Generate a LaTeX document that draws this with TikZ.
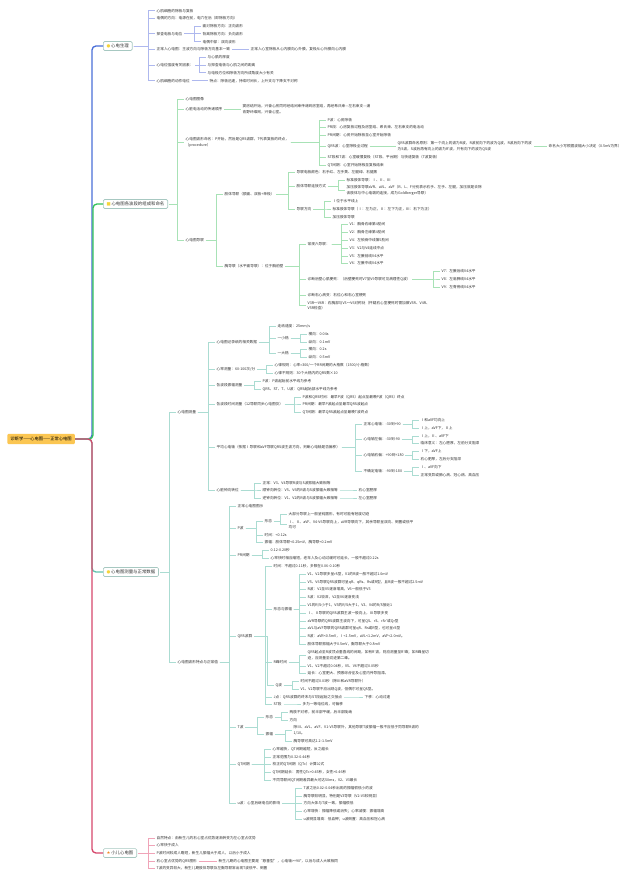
\documentclass[tikz,border=0pt]{standalone}
\usepackage{fontspec}
\setmainfont{Noto Sans CJK SC}
\newfontfamily\dejavu{DejaVu Sans}
\usetikzlibrary{calc}
\definecolor{cB}{HTML}{4A6FD8}
\definecolor{cBl}{HTML}{AEB8EE}
\definecolor{cG}{HTML}{34C35A}
\definecolor{cGl}{HTML}{A8E2B6}
\definecolor{cT}{HTML}{62C2AE}
\definecolor{cTl}{HTML}{ABDCD2}
\definecolor{cR}{HTML}{D6486C}
\definecolor{cRl}{HTML}{F0A4B8}
\definecolor{secb}{HTML}{A7C8C1}
\definecolor{rootf}{HTML}{FBC652}
\definecolor{txt}{HTML}{333333}
\definecolor{bulb}{HTML}{F5D43A}
\definecolor{staro}{HTML}{F08A24}
\tikzset{
 tx/.style={anchor=west, inner sep=0.3pt, font=\fontsize{2.75}{4.3}\selectfont, text=txt, align=left},
 secbox/.style={anchor=west, draw=secb, line width=0.5pt, fill=white, rounded corners=1pt, inner xsep=2.5pt, inner ysep=1.8pt, font=\fontsize{3.3}{4}\selectfont, text=txt},
 rootbox/.style={anchor=west, fill=rootf, rounded corners=1pt, inner xsep=2.4pt, inner ysep=2.4pt, font=\fontsize{3.2}{4}\selectfont, text=black},
 lB/.style={cBl, line width=0.45pt},
 lG/.style={cGl, line width=0.45pt},
 lT/.style={cTl, line width=0.45pt},
 lR/.style={cRl, line width=0.45pt},
 trunk/.style={line width=1pt, rounded corners=3},
}
\newcommand{\mmnode}[4]{\node[tx] (#1) at (#2,#3) {#4};}
\newcommand{\mmlk}[3]{\foreach \mmc in {#2}{\draw[#3] ($(#1.east)+(1.2,0)$) -| ($(\mmc.west)+(-8,0)$) -- ($(\mmc.west)+(-0.6,0)$);}}
\begin{document}
\begin{tikzpicture}[x=0.75pt,y=-0.75pt]
\fill[white] (0,0) rectangle (640,879);
\useasboundingbox (0,0) rectangle (640,879);

% root and sections
\node[rootbox] (root) at (7,439) {诊断学——心电图——正常心电图};
\node[secbox] (s1) at (103,46) {{\dejavu\textcolor{bulb}{●}}\,心电生理};
\node[secbox] (s2) at (103,204) {{\dejavu\textcolor{bulb}{■}}\,心电图各波段的组成和命名};
\node[secbox] (s3) at (103,572) {{\dejavu\textcolor{bulb}{●}}\,心电图测量与正常数据};
\node[secbox] (s4) at (103,853) {{\dejavu\textcolor{staro}{★}}\,小儿心电图};

\draw[trunk, cB] (root.east) -| ($(s1.west)+(-11,0)$) -- (s1.west);
\draw[trunk, cG] (root.east) -| ($(s2.west)+(-10,0)$) -- (s2.west);
\draw[trunk, cT] (root.east) -| ($(s3.west)+(-11,0)$) -- (s3.west);
\draw[trunk, cR] (root.east) -| ($(s4.west)+(-11,0)$) -- (s4.west);

% ---------- Section 1
\mmnode{a1}{156}{10.7}{心肌细胞的除极与复极}
\mmnode{a2}{156}{18.3}{电偶的方向：电源在前，电穴在后（即除极方向）}
\mmnode{a3}{156}{33.7}{探查电极与电位}
\mmnode{a31}{202}{26.3}{面对除极方向：正向波形}
\mmnode{a32}{202}{33.7}{背离除极方向：负向波形}
\mmnode{a33}{202}{41.7}{电偶中部：双向波形}
\mmnode{a4}{156}{49.3}{正常人心电图：主波方向与除极方向基本一致}
\mmnode{a41}{250}{49.3}{正常人心室除极从心内膜向心外膜，复极从心外膜向心内膜}
\mmnode{a5}{156}{65.3}{心电位强度有关因素：}
\mmnode{a51}{207}{57.3}{与心肌的厚度}
\mmnode{a52}{207}{65.3}{与探查电极与心肌之间的距离}
\mmnode{a53}{207}{72.7}{与电极方位和除极方向所成角度大小有关}
\mmnode{a6}{156}{80.7}{心肌细胞的动作电位}
\mmnode{a61}{209}{80.7}{特点：除极迅速，持续时间长，上升支与下降支不对称}
\mmlk{s1}{a1,a2,a3,a4,a5,a6}{lB}
\mmlk{a3}{a31,a32,a33}{lB}
\mmlk{a4}{a41}{lB}
\mmlk{a5}{a51,a52,a53}{lB}
\mmlk{a6}{a61}{lB}

% ---------- Section 2
\mmnode{b1}{185}{99}{心电图图像}
\mmnode{b2}{185}{109.3}{心脏电活动的传递顺序}
\mmnode{b21}{242}{109.3}{窦房结开始，兴奋心房同时经结间束传递到房室结，再经希氏束—左右束支—浦\\肯野纤维网，兴奋心室。}
\mmnode{b3}{185}{142}{心电图波形命名：P开始，然后是QRS波群，T代表复极的终点，\\（procedure）}
\mmnode{b31}{327}{120}{P波：心房除极}
\mmnode{b32}{327}{127.3}{PR段：心房复极过程及房室结、希氏束、左右束支的电活动}
\mmnode{b33}{327}{135}{PR间期：心房开始除极至心室开始除极}
\mmnode{b34}{327}{146}{QRS波：心室除极全过程}
\mmnode{b341}{397}{146.5}{QRS波群命名原则：第一个向上的波为R波，R波前向下的波为Q波，R波后向下的波\\为S波，S波后再有向上的波为R′波，只有向下的波为QS波}
\mmnode{b3411}{548}{146.5}{命名大小写根据波幅大小决定（0.5mV为界）}
\mmnode{b35}{327}{157}{ST段和T波：心室缓慢复极（ST段、平台期）与快速复极（T波复极）}
\mmnode{b36}{327}{165}{QT间期：心室开始除极至复极结束}
\mmnode{b4}{185}{240}{心电图导联}
\mmnode{b41}{224}{194}{肢体导联（额面、双极+单极）}
\mmnode{b411}{296}{172}{导联电极颜色：右手红、左手黄、左腿绿、右腿黑}
\mmnode{b412}{296}{186}{肢体导联连接方式}
\mmnode{b4121}{346}{180}{标准肢体导联：Ⅰ、Ⅱ、Ⅲ}
\mmnode{b4122}{346}{190.5}{加压肢体导联aVR、aVL、aVF（R、L、F分别表示右手、左手、左腿，加压就是去除\\该肢体与中心电端的连接，成为Goldberger导联）}
\mmnode{b413}{296}{209}{导联方向}
\mmnode{b4131}{332}{201}{Ⅰ位于水平线上}
\mmnode{b4132}{332}{209}{标准肢体导联（Ⅰ：左为正，Ⅱ：左下为正，Ⅲ：右下为正）}
\mmnode{b4133}{332}{217}{加压肢体导联}
\mmnode{b42}{224}{266}{胸导联（水平面导联）：位于胸前壁}
\mmnode{b421}{307}{244}{常规六导联：}
\mmnode{b4211}{349}{224}{V1：胸骨右缘第4肋间}
\mmnode{b4212}{349}{232}{V2：胸骨左缘第4肋间}
\mmnode{b4213}{349}{240}{V4：左锁骨中线第5肋间}
\mmnode{b4214}{349}{248}{V3：V2与V4连线中点}
\mmnode{b4215}{349}{256}{V5：左腋前线V4水平}
\mmnode{b4216}{349}{263}{V6：左腋中线V4水平}
\mmnode{b422}{307}{279}{诊断后壁心肌梗死：（后壁梗死时V7至V9导联可见病理性Q波）}
\mmnode{b4221}{441}{271}{V7：左腋后线V4水平}
\mmnode{b4222}{441}{279}{V8：左肩胛线V4水平}
\mmnode{b4223}{441}{287}{V9：左脊旁线V4水平}
\mmnode{b423}{307}{295}{诊断右心病变：右位心和右心室梗死}
\mmnode{b424}{307}{305.5}{V3R～V6R：右胸部与V3～V6对称处（怀疑右心室梗死时需加做V3R、V4R、\\V5R检查）}
\mmlk{s2}{b1,b2,b3,b4}{lG}
\mmlk{b2}{b21}{lG}
\mmlk{b3}{b31,b32,b33,b34,b35,b36}{lG}
\mmlk{b34}{b341}{lG}
\mmlk{b341}{b3411}{lG}
\mmlk{b4}{b41,b42}{lG}
\mmlk{b41}{b411,b412,b413}{lG}
\mmlk{b412}{b4121,b4122}{lG}
\mmlk{b413}{b4131,b4132,b4133}{lG}
\mmlk{b42}{b421,b422,b423,b424}{lG}
\mmlk{b421}{b4211,b4212,b4213,b4214,b4215,b4216}{lG}
\mmlk{b422}{b4221,b4222,b4223}{lG}

% ---------- Section 3
\mmnode{c1}{177}{412}{心电图测量}
\mmnode{c11}{216}{342}{心电图记录纸的相关数据}
\mmnode{c111}{277}{326}{走纸速度：25mm/s}
\mmnode{c112}{277}{338}{一小格}
\mmnode{c1121}{308}{334}{横向：0.04s}
\mmnode{c1122}{308}{342}{纵向：0.1mV}
\mmnode{c113}{277}{353}{一大格}
\mmnode{c1131}{308}{349}{横向：0.2s}
\mmnode{c1132}{308}{357}{纵向：0.5mV}
\mmnode{c12}{216}{369}{心率测量：60-100次/分}
\mmnode{c121}{274}{365}{心律规则：心率=300/一个RR间期的大格数（1500/小格数）}
\mmnode{c122}{274}{373}{心律不规则：30个大格内的QRS数×10}
\mmnode{c13}{216}{385}{各波段振幅测量}
\mmnode{c131}{262}{381}{P波：P波起始前水平线为参考}
\mmnode{c132}{262}{389}{QRS、ST、T、U波：QRS起始部水平线为参考}
\mmnode{c14}{216}{404}{各波段时间测量（12导联同步心电图仪）}
\mmnode{c141}{302}{397}{P波和QRS时间：最早P波（QRS）起点至最晚P波（QRS）终点}
\mmnode{c142}{302}{404}{PR间期：最早P波起点至最早QRS波起点}
\mmnode{c143}{302}{412}{QT间期：最早QRS波起点至最晚T波终点}
\mmnode{c15}{216}{447}{平均心电轴（依据Ⅰ导联和aVF导联QRS波主波方向，判断心电轴是否偏移）}
\mmnode{c151}{363}{424}{正常心电轴：-30到+90}
\mmnode{c1511}{420}{420}{Ⅰ和aVF均向上}
\mmnode{c1512}{420}{428}{Ⅰ上，aVF下，Ⅱ上}
\mmnode{c152}{363}{439}{心电轴左偏：-30到-90}
\mmnode{c1521}{420}{436}{Ⅰ上，Ⅱ、aVF下}
\mmnode{c1522}{420}{443}{临床意义：左心肥厚，左前分支阻滞}
\mmnode{c153}{363}{455}{心电轴右偏：+90到+180}
\mmnode{c1531}{420}{451}{Ⅰ下，aVF上}
\mmnode{c1532}{420}{459}{右心肥厚，左后分支阻滞}
\mmnode{c154}{363}{471}{不确定电轴：-90到-180}
\mmnode{c1541}{420}{467}{Ⅰ、aVF向下}
\mmnode{c1542}{420}{475}{正常变异或肺心病、冠心病、高血压}
\mmnode{c16}{216}{490}{心脏钟向转位}
\mmnode{c161}{262}{483}{正常：V3、V4导联R波与S波振幅大致相等}
\mmnode{c162}{262}{490}{顺钟向转位：V5、V6的R波与S波振幅大致相等}
\mmnode{c1621}{358}{490}{右心室肥厚}
\mmnode{c163}{262}{498}{逆钟向转位：V1、V2的R波与S波振幅大致相等}
\mmnode{c1631}{358}{498}{左心室肥厚}

\mmnode{c2}{177}{662}{心电图波形特点与正常值}
\mmnode{c21}{237}{506}{正常心电图图示}
\mmnode{c22}{237}{528}{P波}
\mmnode{c221}{264}{521}{形态}
\mmnode{c2211}{288}{514}{大部分导联上一般呈钝圆形，有时可能有轻度切迹}
\mmnode{c2212}{288}{524.5}{Ⅰ、Ⅱ、aVF、V4-V6导联向上，aVR导联向下，其余导联呈双向、倒置或低平\\均可}
\mmnode{c222}{264}{535}{时间：<0.12s}
\mmnode{c223}{264}{542}{振幅：肢体导联<0.25mV，胸导联<0.2mV}
\mmnode{c23}{237}{555}{PR间期}
\mmnode{c231}{270}{550}{0.12-0.20秒}
\mmnode{c232}{270}{558}{心率快时相应缩短，老年人及心动过缓时可延长，一般不超过0.22s}
\mmnode{c24}{237}{636}{QRS波群}
\mmnode{c241}{273}{566}{时间：不超过0.11秒，多数在0.06-0.10秒}
\mmnode{c242}{273}{609}{形态与振幅}
\mmnode{c2421}{307}{574}{V1、V2导联多呈rS型，V1的R波一般不超过1.0mV}
\mmnode{c2422}{307}{582}{V5、V6导联QRS波群可呈qR、qRs、Rs或R型，且R波一般不超过2.5mV}
\mmnode{c2423}{307}{589}{R波：V1至V5逐渐增高，V6一般低于V5}
\mmnode{c2424}{307}{597}{S波：V2较深，V2至V6逐渐变浅}
\mmnode{c2425}{307}{605}{V1的R/S小于1，V5的R/S大于1，V3、V4的R/S接近1}
\mmnode{c2426}{307}{613}{Ⅰ、Ⅱ导联的QRS波群主波一般向上，Ⅲ导联多变}
\mmnode{c2427}{307}{621}{aVR导联的QRS波群主波向下，可呈QS、rS、rSr′或Qr型}
\mmnode{c2428}{307}{628}{aVL与aVF导联的QRS波群可呈qR、Rs或R型，也可呈rS型}
\mmnode{c2429}{307}{636}{R波：aVR<0.5mV，Ⅰ<1.5mV，aVL<1.2mV，aVF<2.0mV。}
\mmnode{c242a}{307}{644}{肢体导联振幅大于0.5mV，胸导联大于0.8mV}
\mmnode{c243}{273}{662}{R峰时间}
\mmnode{c2431}{307}{655}{QRS起点至R波顶点垂直线的间距，如有R′波，则应测量至R′峰；如R峰呈切\\迹，应测量至切迹第二峰。}
\mmnode{c2432}{307}{666}{V1、V2不超过0.04秒，V5、V6不超过0.05秒}
\mmnode{c2433}{307}{673}{延长：心室肥大、预激综合征及心室内传导阻滞。}
\mmnode{c244}{275}{685}{Q波}
\mmnode{c2441}{300}{681}{时间不超过0.03秒（除Ⅲ和aVR导联外）}
\mmnode{c2442}{300}{689}{V1、V2导联不应出现Q波，但偶尔可呈QS型。}
\mmnode{c245}{273}{697}{J点：QRS波群的终末与ST段起始之交接点}
\mmnode{c2451}{364}{697}{下移：心动过速}
\mmnode{c246}{273}{704}{ST段}
\mmnode{c2461}{302}{704}{多为一等电位线，可偏移}
\mmnode{c25}{237}{727}{T波}
\mmnode{c251}{265}{717}{形态}
\mmnode{c2511}{289}{712}{两肢不对称，前半部平缓，后半部陡峭}
\mmnode{c2512}{289}{720}{方向}
\mmnode{c252}{265}{734}{振幅}
\mmnode{c2521}{293}{730.5}{除Ⅲ、aVL、aVF、V1-V3导联外，其他导联T波振幅一般不应低于同导联R波的\\1/10。}
\mmnode{c2522}{293}{741}{胸导联可高达1.2-1.5mV}
\mmnode{c26}{237}{764}{QT间期}
\mmnode{c261}{272}{749}{心率越快，QT间期越短，反之越长}
\mmnode{c262}{272}{757}{正常范围为0.32-0.44秒}
\mmnode{c263}{272}{764}{校正的QT间期（QTc）计算公式}
\mmnode{c264}{272}{772}{QT间期延长：男性QTc>0.45秒，女性>0.46秒}
\mmnode{c265}{272}{780}{不同导联间QT间期差异最大可达50ms，V2、V3最长}
\mmnode{c27}{237}{803}{u波：心室后继电位的影响}
\mmnode{c271}{303}{788}{T波之后0.02-0.04秒出现的振幅很低小的波}
\mmnode{c272}{303}{796}{胸导联较明显，特别是V3导联（V2-V3较明显）}
\mmnode{c273}{303}{803}{方向大体与T波一致，振幅很低}
\mmnode{c274}{303}{811}{心率增快：振幅降低或消失；心率减慢：振幅增高}
\mmnode{c275}{303}{819}{u波明显增高：低血钾；u波倒置：高血压和冠心病}

\mmlk{s3}{c1,c2}{lT}
\mmlk{c1}{c11,c12,c13,c14,c15,c16}{lT}
\mmlk{c11}{c111,c112,c113}{lT}
\mmlk{c112}{c1121,c1122}{lT}
\mmlk{c113}{c1131,c1132}{lT}
\mmlk{c12}{c121,c122}{lT}
\mmlk{c13}{c131,c132}{lT}
\mmlk{c14}{c141,c142,c143}{lT}
\mmlk{c15}{c151,c152,c153,c154}{lT}
\mmlk{c151}{c1511,c1512}{lT}
\mmlk{c152}{c1521,c1522}{lT}
\mmlk{c153}{c1531,c1532}{lT}
\mmlk{c154}{c1541,c1542}{lT}
\mmlk{c16}{c161,c162,c163}{lT}
\mmlk{c162}{c1621}{lT}
\mmlk{c163}{c1631}{lT}
\mmlk{c2}{c21,c22,c23,c24,c25,c26,c27}{lT}
\mmlk{c22}{c221,c222,c223}{lT}
\mmlk{c221}{c2211,c2212}{lT}
\mmlk{c23}{c231,c232}{lT}
\mmlk{c24}{c241,c242,c243,c244,c245,c246}{lT}
\mmlk{c242}{c2421,c2422,c2423,c2424,c2425,c2426,c2427,c2428,c2429,c242a}{lT}
\mmlk{c243}{c2431,c2432,c2433}{lT}
\mmlk{c244}{c2441,c2442}{lT}
\mmlk{c245}{c2451}{lT}
\mmlk{c246}{c2461}{lT}
\mmlk{c25}{c251,c252}{lT}
\mmlk{c251}{c2511,c2512}{lT}
\mmlk{c252}{c2521,c2522}{lT}
\mmlk{c26}{c261,c262,c263,c264,c265}{lT}
\mmlk{c27}{c271,c272,c273,c274,c275}{lT}

% ---------- Section 4
\mmnode{d1}{156}{838}{自然特点：由新生儿的右心室占优势逐渐转变为左心室占优势}
\mmnode{d2}{156}{845}{心率快于成人}
\mmnode{d3}{156}{853}{P波时间较成人略短，新生儿振幅大于成人，以后小于成人}
\mmnode{d4}{156}{861}{右心室占优势的QRS图形}
\mmnode{d41}{218}{861}{新生儿期的心电图主要是“悬垂型”，心电轴>+90°，以后与成人大致相同}
\mmnode{d5}{156}{868}{T波的变异较大，新生儿期肢体导联及左胸导联常出现T波低平、倒置}
\mmlk{s4}{d1,d2,d3,d4,d5}{lR}
\mmlk{d4}{d41}{lR}
\end{tikzpicture}
\end{document}
